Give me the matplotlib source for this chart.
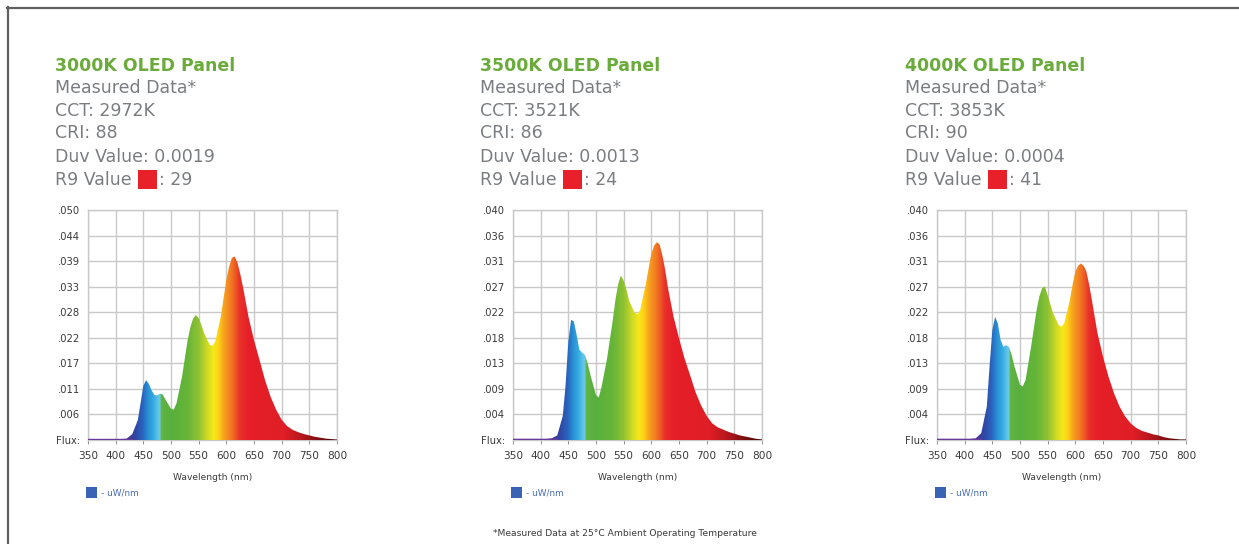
import numpy as np
import matplotlib
matplotlib.use("Agg")
import matplotlib.pyplot as plt
from matplotlib.colors import LinearSegmentedColormap
from matplotlib.patches import Rectangle
from matplotlib.lines import Line2D

# ---------------- data ----------------
titles = ["3000K OLED Panel", "3500K OLED Panel", "4000K OLED Panel"]
cct = ["2972K", "3521K", "3853K"]
cri = ["88", "86", "90"]
duv = ["0.0019", "0.0013", "0.0004"]
r9 = ["29", "24", "41"]

wl = [350, 380, 410, 420, 430, 440, 445, 450, 455, 460, 465, 470, 475, 480, 485, 490,
      500, 505, 510, 520, 530, 535, 540, 545, 550, 555, 560, 570, 575, 580, 590, 595,
      600, 605, 610, 615, 620, 625, 630, 635, 640, 650, 660, 670, 680, 690, 700, 710,
      720, 730, 740, 750, 760, 770, 780, 790, 800]

flux_3000 = [0.0002, 0.0002, 0.0002, 0.0003, 0.0013, 0.0043, 0.0080, 0.0118, 0.0130, 0.0122, 0.0108, 0.0098, 0.0097, 0.0101, 0.0099, 0.0088,
             0.0068, 0.0066, 0.0080, 0.0138, 0.0217, 0.0245, 0.0264, 0.0272, 0.0265, 0.0250, 0.0232, 0.0207, 0.0205, 0.0214, 0.0268, 0.0308,
             0.0348, 0.0377, 0.0396, 0.0399, 0.0386, 0.0362, 0.0333, 0.0301, 0.0268, 0.0217, 0.0174, 0.0130, 0.0094, 0.0066, 0.0044, 0.0030,
             0.0022, 0.0017, 0.0013, 0.0010, 0.0007, 0.0005, 0.0003, 0.0002, 0.0001]

flux_3500 = [0.0002, 0.0002, 0.0002, 0.0003, 0.0008, 0.0042, 0.0095, 0.0171, 0.0209, 0.0206, 0.0183, 0.0157, 0.0152, 0.0148, 0.0133, 0.0113,
             0.0078, 0.0074, 0.0092, 0.0142, 0.0206, 0.0243, 0.0271, 0.0286, 0.0277, 0.0262, 0.0242, 0.0221, 0.0219, 0.0227, 0.0271, 0.0298,
             0.0324, 0.0338, 0.0344, 0.0340, 0.0321, 0.0296, 0.0265, 0.0240, 0.0215, 0.0177, 0.0142, 0.0113, 0.0083, 0.0060, 0.0042, 0.0029,
             0.0022, 0.0018, 0.0014, 0.0011, 0.0008, 0.0006, 0.0004, 0.0002, 0.0001]

flux_4000 = [0.0002, 0.0002, 0.0002, 0.0003, 0.0012, 0.0058, 0.0128, 0.0191, 0.0214, 0.0203, 0.0174, 0.0162, 0.0165, 0.0162, 0.0148, 0.0128,
             0.0096, 0.0093, 0.0104, 0.0162, 0.0226, 0.0250, 0.0264, 0.0267, 0.0252, 0.0236, 0.0220, 0.0200, 0.0197, 0.0203, 0.0243, 0.0270,
             0.0293, 0.0303, 0.0307, 0.0303, 0.0293, 0.0270, 0.0243, 0.0214, 0.0186, 0.0145, 0.0110, 0.0081, 0.0058, 0.0041, 0.0029, 0.0021,
             0.0016, 0.0013, 0.0010, 0.0008, 0.0005, 0.0003, 0.0002, 0.0001, 0.0001]

flux_all = [flux_3000, flux_3500, flux_4000]

ytop = [0.050, 0.040, 0.040]
ylabels = [
    ["Flux:", ".006", ".011", ".017", ".022", ".028", ".033", ".039", ".044", ".050"],
    ["Flux:", ".004", ".009", ".013", ".018", ".022", ".027", ".031", ".036", ".040"],
    ["Flux:", ".004", ".009", ".013", ".018", ".022", ".027", ".031", ".036", ".040"],
]
xticks = [350, 400, 450, 500, 550, 600, 650, 700, 750, 800]

# ---------------- style ----------------
W, H = 1239, 544
fig = plt.figure(figsize=(W / 100, H / 100), dpi=100)
fig.patch.set_facecolor("white")

spec_stops = [
    (350, "#5b2c8e"), (420, "#4a3596"), (435, "#2f47a3"), (448, "#2a62bd"),
    (458, "#278fd3"), (468, "#35ace2"), (477, "#62c6e9"), (480.5, "#6cc9e6"),
    (481.5, "#62b445"), (500, "#57af3d"), (530, "#66b538"), (550, "#8fc232"),
    (565, "#cdd925"), (577, "#f6e81a"), (586, "#fcd215"), (596, "#f7a01f"),
    (610, "#f17522"), (625, "#e9302a"), (640, "#e61f28"), (705, "#e01e26"),
    (735, "#b9181e"), (765, "#801012"), (800, "#4a0808"),
]
pos = [(w - 350) / 450 for w, _ in spec_stops]
cmap = LinearSegmentedColormap.from_list("spec", list(zip(pos, [c for _, c in spec_stops])), N=1024)

grid_c = "#c9c9c9"
text_gray = "#7a7d80"
green = "#6aab3c"

ax_left_px = [88, 513, 937]
ax_right_px = [337, 762, 1186]
ax_top_px = 210
ax_bot_px = 440
text_x_px = [55, 480, 905]
line_y_px = [66, 88, 111, 133, 157, 180]

def fx(px):
    return px / W

def fy(py):
    return 1 - py / H

grad = np.linspace(0, 1, 900).reshape(1, -1)

for i in range(3):
    l, r = ax_left_px[i], ax_right_px[i]
    ax = fig.add_axes([fx(l), fy(ax_bot_px), (r - l) / W, (ax_bot_px - ax_top_px) / H])
    ax.set_xlim(350, 800)
    ax.set_ylim(0, ytop[i])
    yt = np.linspace(0, ytop[i], 10)
    ax.set_yticks(yt)
    ax.set_yticklabels(ylabels[i])
    ax.set_xticks(xticks)
    ax.set_xticklabels([str(x) for x in xticks])
    ax.grid(True, color=grid_c, linewidth=1.0)
    ax.set_axisbelow(True)
    for s in ax.spines.values():
        s.set_color(grid_c)
        s.set_linewidth(1.0)
    ax.tick_params(axis="y", length=0, pad=6, labelsize=7.2, labelcolor="#3a3a3a")
    ax.tick_params(axis="x", length=3, color="#9a9a9a", pad=5, labelsize=7.6, labelcolor="#3a3a3a")

    y = np.array(flux_all[i])
    x = np.array(wl)
    poly = ax.fill_between(x, 0, y, facecolor="none", edgecolor="none")
    im = ax.imshow(grad, extent=[350, 800, 0, ytop[i]], aspect="auto", cmap=cmap,
                   origin="lower", zorder=3, interpolation="bilinear")
    im.set_clip_path(poly.get_paths()[0], transform=ax.transData)
    ax.plot([350, 430], [0.00015, 0.00015], color="#6a3a9a", lw=1.0, zorder=4)

    # Wavelength label
    cx = (l + r) / 2
    fig.text(fx(cx), fy(477), "Wavelength (nm)", ha="center", va="center",
             fontsize=6.6, color="#3a3a3a")
    # legend
    lx = l - 2
    fig.patches.append(Rectangle((fx(lx), fy(498)), 11 / W, 11 / H, transform=fig.transFigure,
                                 facecolor="#3b63b5", edgecolor="none"))
    fig.text(fx(lx + 15), fy(492.5), "- uW/nm", ha="left", va="center",
             fontsize=6.4, color="#4a6db8")

    # header texts
    tx = fx(text_x_px[i])
    fig.text(tx, fy(line_y_px[0]), titles[i], ha="left", va="center",
             fontsize=12.5, fontweight="bold", color=green)
    body = ["Measured Data*", "CCT: " + cct[i], "CRI: " + cri[i], "Duv Value: " + duv[i]]
    for j, s in enumerate(body):
        fig.text(tx, fy(line_y_px[j + 1]), s, ha="left", va="center",
                 fontsize=12.5, color=text_gray)
    t = fig.text(tx, fy(line_y_px[5]), "R9 Value ", ha="left", va="center",
                 fontsize=12.5, color=text_gray)
    fig.canvas.draw()
    bb = t.get_window_extent()
    sq_l = bb.x1 + 1
    fig.patches.append(Rectangle((sq_l / W, fy(line_y_px[5] + 9)), 19 / W, 19 / H,
                                 transform=fig.transFigure, facecolor="#e8202a", edgecolor="none"))
    fig.text((sq_l + 21) / W, fy(line_y_px[5]), ": " + r9[i], ha="left", va="center",
             fontsize=12.5, color=text_gray)

fig.text(fx(625), fy(533), "*Measured Data at 25\u00b0C Ambient Operating Temperature",
         ha="center", va="center", fontsize=6.6, color="#3a3a3a")

# outer frame lines (top and left)
fig.add_artist(Line2D([fx(7), 1], [fy(7.5), fy(7.5)], transform=fig.transFigure,
                      color="#5f5f5f", lw=1.6))
fig.add_artist(Line2D([fx(7.5), fx(7.5)], [fy(7), 0], transform=fig.transFigure,
                      color="#5f5f5f", lw=1.6))

fig.savefig("out.png", dpi=100, facecolor="white")
